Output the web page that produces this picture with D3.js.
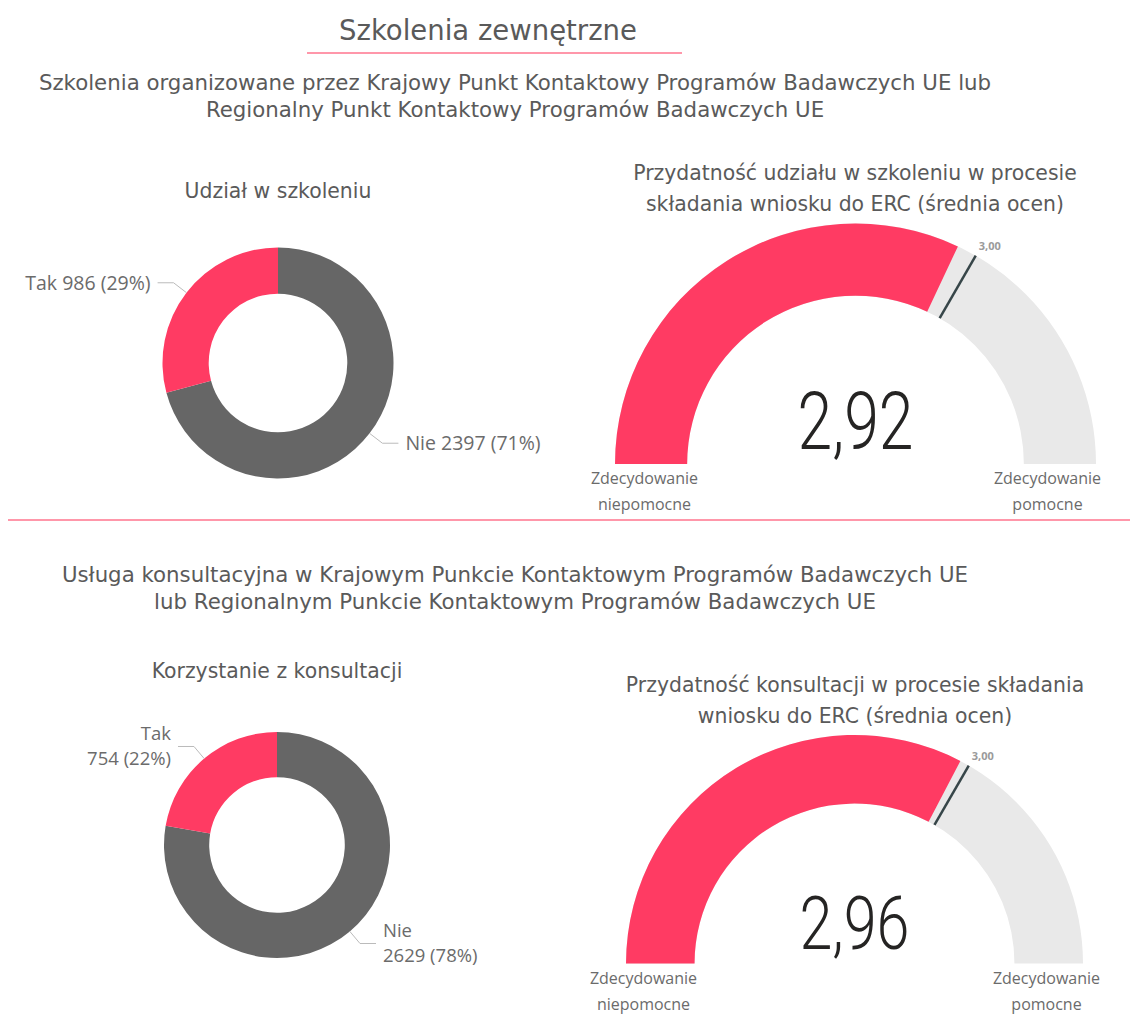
<!DOCTYPE html>
<html>
<head>
<meta charset="utf-8">
<script src="https://cdnjs.cloudflare.com/ajax/libs/d3/7.8.5/d3.min.js"></script>
<style>
  body { margin: 0; background: #fff; }
  text { font-family: "Open Sans", sans-serif; fill: #605e5c; }
  .ttl { font-family: "DejaVu Sans", sans-serif; fill: #5a5a5a; }
</style>
</head>
<body>
<svg width="1130" height="1015"></svg>
<script>
// data
var donutCategories = ["Nie", "Tak"];
var udzialValues = [2397, 986];
var konsultacjeValues = [2629, 754];
var gaugeValues = [2.92, 2.96];
var gaugeTargets = [3.00, 3.00];
var gaugeRange = [1, 4];
var gaugeMinLabel = ["Zdecydowanie", "niepomocne"];
var gaugeMaxLabel = ["Zdecydowanie", "pomocne"];

var pageTitle = "Szkolenia zewnętrzne";
var sectionTitles = [
  ["Szkolenia organizowane przez Krajowy Punkt Kontaktowy Programów Badawczych UE lub",
   "Regionalny Punkt Kontaktowy Programów Badawczych UE"],
  ["Usługa konsultacyjna w Krajowym Punkcie Kontaktowym Programów Badawczych UE",
   "lub Regionalnym Punkcie Kontaktowym Programów Badawczych UE"]
];
var donutTitles = ["Udział w szkoleniu", "Korzystanie z konsultacji"];
var gaugeTitles = [
  ["Przydatność udziału w szkoleniu w procesie", "składania wniosku do ERC (średnia ocen)"],
  ["Przydatność konsultacji w procesie składania", "wniosku do ERC (średnia ocen)"]
];

var red = "#ff3b63", darkGrey = "#666666", lightGrey = "#e9e9e9", pink = "#ff97aa";

var svg = d3.select("svg");
var plLocale = d3.formatLocale({decimal: ",", thousands: "", grouping: [3], currency: ["", " zł"]});
var fmt2 = plLocale.format(".2f");

// page header
svg.append("text")
  .attr("class", "ttl")
  .attr("x", 488).attr("y", 40)
  .attr("text-anchor", "middle")
  .style("font-size", "27.5px")
  .text(pageTitle);

svg.append("line")
  .attr("x1", 307).attr("x2", 682)
  .attr("y1", 53).attr("y2", 53)
  .attr("stroke", pink).attr("stroke-width", 2);

svg.append("line")
  .attr("x1", 8).attr("x2", 1130)
  .attr("y1", 520).attr("y2", 520)
  .attr("stroke", pink).attr("stroke-width", 2);

var multiline = function(lines, x, y, lh, size) {
  var t = svg.append("text")
    .attr("class", "ttl")
    .attr("text-anchor", "middle")
    .style("font-size", size + "px");
  lines.forEach(function(l, i) {
    t.append("tspan").attr("x", x).attr("y", y + i * lh).text(l);
  });
  return t;
};

multiline(sectionTitles[0], 515, 90, 27, 21.3);
multiline(sectionTitles[1], 515, 582, 27, 21.3);
multiline([donutTitles[0]], 278, 198, 0, 20.4);
multiline([donutTitles[1]], 277, 678, 0, 20.4);
multiline(gaugeTitles[0], 855, 180, 31, 20.4);
multiline(gaugeTitles[1], 855, 692, 31, 20.4);

var drawDonut = function(cx, cy, r, values, wrap) {
  var g = svg.append("g").attr("transform", "translate(" + cx + "," + cy + ")");
  var total = d3.sum(values);
  var pie = d3.pie().sort(null);
  var arcs = pie(values);
  var arc = d3.arc().innerRadius(r * 0.6).outerRadius(r);
  var pct = d3.format(".0%");

  g.selectAll("path")
    .data(arcs)
    .enter().append("path")
    .attr("d", arc)
    .attr("fill", function(d, i) { return i == 0 ? darkGrey : red; });

  arcs.forEach(function(d, i) {
    var a = (d.startAngle + d.endAngle) / 2;
    var sx = Math.sin(a), sy = -Math.cos(a);
    var p0 = [sx * r, sy * r];
    var p1 = [sx * r * 1.14, sy * r * 1.14];
    var side = sx < 0 ? -1 : 1;
    var p2 = [p1[0] + side * 16, p1[1]];
    g.append("polyline")
      .attr("points", [p0, p1, p2].join(" "))
      .attr("fill", "none")
      .attr("stroke", "#bbb")
      .attr("stroke-width", 1);

    var label = donutCategories[i] + " " + values[i] + " (" + pct(values[i] / total) + ")";
    var lines = wrap ? [donutCategories[i], values[i] + " (" + pct(values[i] / total) + ")"] : [label];
    var t = g.append("text")
      .attr("text-anchor", side < 0 ? "end" : "start")
      .style("font-size", (wrap ? 18.5 : 19.5) + "px")
      .style("fill", "#6b6b6b");
    lines.forEach(function(l, j) {
      t.append("tspan")
        .attr("x", p2[0] + side * 7)
        .attr("y", p1[1] + (j - (lines.length - 1) / 2) * 25)
        .attr("dy", "0.35em")
        .text(l);
    });
  });
};

drawDonut(278, 363, 115.5, udzialValues, false);
drawDonut(277, 845, 113, konsultacjeValues, true);

var drawGauge = function(cx, cy, r, value, target, valueSize, valueWidth) {
  var g = svg.append("g").attr("transform", "translate(" + cx + "," + cy + ")");
  var angle = d3.scaleLinear().domain(gaugeRange).range([-Math.PI / 2, Math.PI / 2]);
  var arc = d3.arc().innerRadius(r * 0.7).outerRadius(r);

  g.append("path")
    .attr("d", arc({startAngle: angle(gaugeRange[0]), endAngle: angle(gaugeRange[1])}))
    .attr("fill", lightGrey);
  g.append("path")
    .attr("d", arc({startAngle: angle(gaugeRange[0]), endAngle: angle(value)}))
    .attr("fill", red);

  var ta = angle(target);
  g.append("line")
    .attr("x1", Math.sin(ta) * r * 0.7).attr("y1", -Math.cos(ta) * r * 0.7)
    .attr("x2", Math.sin(ta) * r).attr("y2", -Math.cos(ta) * r)
    .attr("stroke", "#374649").attr("stroke-width", 2.5);

  g.append("text")
    .attr("x", Math.sin(ta) * r + 3).attr("y", -Math.cos(ta) * r - 6)
    .style("font-size", "11px").style("font-weight", "bold")
    .style("fill", "#9a9a9a")
    .text(fmt2(target));

  g.append("text")
    .attr("x", 0).attr("y", -15)
    .attr("text-anchor", "middle")
    .attr("textLength", valueWidth).attr("lengthAdjust", "spacingAndGlyphs")
    .style("font-family", "Roboto, sans-serif").style("font-weight", 300)
    .style("font-size", valueSize + "px").style("fill", "#252423")
    .text(fmt2(value));

  [[gaugeMinLabel, -211], [gaugeMaxLabel, 192]].forEach(function(m) {
    var t = g.append("text")
      .attr("text-anchor", "middle")
      .style("font-size", "16px").style("fill", "#6b6b6b");
    m[0].forEach(function(l, j) {
      t.append("tspan").attr("x", m[1]).attr("y", 20 + j * 26).text(l);
    });
  });
};

drawGauge(855.5, 464, 240.5, gaugeValues[0], gaugeTargets[0], 80, 116);
drawGauge(854.5, 963.5, 228.5, gaugeValues[1], gaugeTargets[1], 75, 110);
</script>
</body>
</html>
